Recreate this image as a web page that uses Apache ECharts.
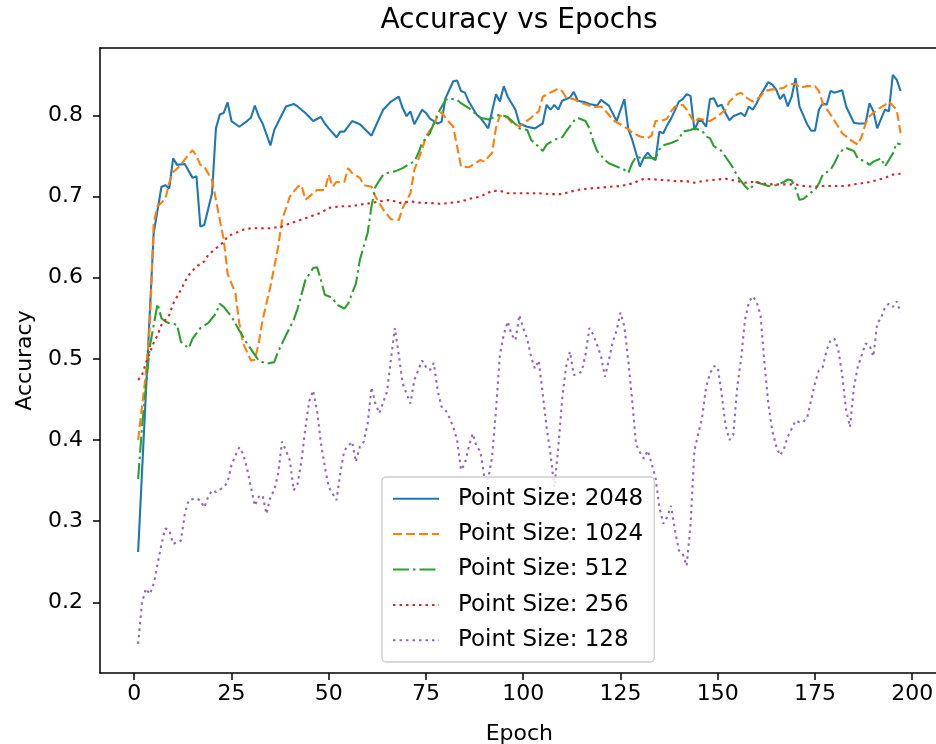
<!DOCTYPE html>
<html>
<head>
<meta charset="utf-8">
<script src="https://cdn.jsdelivr.net/npm/echarts@6/dist/echarts.min.js"></script>
<style>html,body{margin:0;padding:0;background:#fff}#c{width:936px;height:744px}</style>
</head>
<body>
<div id="c"></div>
<script>
const xTicks = [0, 25, 50, 75, 100, 125, 150, 175, 200];
const yTicks = [0.2, 0.3, 0.4, 0.5, 0.6, 0.7, 0.8];
const seriesNames = ['Point Size: 2048', 'Point Size: 1024', 'Point Size: 512', 'Point Size: 256', 'Point Size: 128'];

const ep2048 = [1,5,7,8,9,10,11,13,15,16,17,18,20,21,22,23,24,25,27,29,30,31,32,33,35,36,39,41,42,44,46,48,49,50,52,53,54,56,58,61,62,64,66,68,69,70,71,72,74,75,76,78,79,80,82,83,84,85,86,88,89,91,93,94,95,96,97,98,99,101,103,105,106,107,108,109,110,112,113,114,116,117,119,120,122,124,126,127,128,130,131,132,133,134,135,136,137,138,140,141,142,143,144,145,146,147,148,149,150,151,152,153,154,156,157,158,159,160,161,163,164,165,166,167,168,169,170,171,173,174,175,176,177,178,179,180,182,183,185,186,188,189,190,191,192,193,194,195,196,197];
const acc2048 = [0.262,0.655,0.712,0.714,0.710,0.747,0.739,0.740,0.723,0.725,0.663,0.665,0.704,0.784,0.801,0.803,0.816,0.793,0.786,0.793,0.797,0.812,0.799,0.790,0.763,0.782,0.811,0.814,0.811,0.803,0.793,0.798,0.790,0.784,0.773,0.780,0.780,0.793,0.789,0.775,0.786,0.807,0.817,0.823,0.809,0.799,0.805,0.789,0.807,0.803,0.796,0.790,0.792,0.821,0.842,0.843,0.830,0.828,0.817,0.801,0.797,0.784,0.826,0.817,0.836,0.823,0.815,0.807,0.790,0.786,0.784,0.790,0.813,0.807,0.813,0.807,0.818,0.822,0.829,0.818,0.816,0.814,0.812,0.819,0.812,0.793,0.820,0.783,0.770,0.737,0.748,0.754,0.748,0.745,0.780,0.778,0.788,0.796,0.817,0.820,0.826,0.824,0.782,0.793,0.793,0.786,0.820,0.821,0.811,0.813,0.803,0.794,0.799,0.803,0.799,0.811,0.807,0.815,0.825,0.841,0.838,0.832,0.820,0.826,0.811,0.823,0.846,0.811,0.789,0.781,0.781,0.807,0.815,0.813,0.830,0.828,0.831,0.811,0.791,0.790,0.790,0.815,0.805,0.784,0.796,0.807,0.805,0.850,0.844,0.830];

const ep1024 = [1,3,4,5,6,8,9,10,12,14,15,16,17,18,20,21,23,24,26,27,28,30,31,32,33,35,37,38,40,42,43,44,46,47,49,50,51,52,54,55,56,58,59,61,62,64,66,68,69,71,72,74,75,77,78,79,80,82,83,84,86,87,89,90,92,93,94,95,96,97,98,99,100,102,104,105,107,109,110,111,113,115,116,118,120,122,123,125,127,128,130,132,133,134,136,137,138,139,141,142,144,145,147,148,150,152,153,155,156,157,159,161,162,164,165,167,168,170,171,173,175,176,177,179,181,182,184,186,187,188,189,191,193,194,196,197];
const acc1024 = [0.400,0.482,0.540,0.667,0.688,0.697,0.717,0.730,0.739,0.752,0.757,0.750,0.739,0.737,0.720,0.696,0.647,0.605,0.581,0.544,0.519,0.498,0.499,0.519,0.548,0.589,0.638,0.671,0.700,0.712,0.714,0.696,0.704,0.708,0.708,0.727,0.712,0.718,0.718,0.735,0.729,0.723,0.714,0.712,0.700,0.684,0.672,0.671,0.686,0.704,0.733,0.758,0.774,0.789,0.799,0.804,0.797,0.786,0.762,0.737,0.736,0.739,0.745,0.743,0.754,0.785,0.800,0.798,0.797,0.791,0.789,0.786,0.790,0.797,0.805,0.823,0.828,0.833,0.830,0.822,0.820,0.815,0.814,0.810,0.811,0.801,0.794,0.789,0.783,0.779,0.774,0.772,0.775,0.793,0.794,0.796,0.805,0.811,0.813,0.807,0.791,0.796,0.794,0.793,0.799,0.807,0.817,0.826,0.828,0.823,0.817,0.823,0.830,0.832,0.832,0.834,0.838,0.839,0.834,0.836,0.836,0.830,0.815,0.801,0.786,0.778,0.770,0.764,0.774,0.790,0.799,0.807,0.813,0.817,0.807,0.778];

const ep512 = [1,2,4,6,7,8,9,11,12,14,15,17,19,21,22,23,25,27,28,29,31,32,34,36,37,39,41,42,44,46,47,48,49,51,52,54,55,57,58,60,61,62,64,65,67,69,71,72,73,74,76,77,78,80,81,83,84,86,88,89,91,93,94,96,98,99,101,102,104,105,106,108,110,111,113,114,116,117,118,119,121,122,124,126,127,128,129,131,132,134,135,136,138,140,141,143,144,146,147,148,149,151,152,154,155,156,157,158,160,161,163,165,167,168,169,170,171,172,174,175,176,177,179,180,181,182,183,185,186,188,189,190,192,193,194,195,196,197];
const acc512 = [0.352,0.416,0.515,0.568,0.550,0.546,0.544,0.542,0.521,0.513,0.525,0.538,0.544,0.556,0.568,0.564,0.552,0.535,0.527,0.519,0.505,0.498,0.494,0.496,0.509,0.529,0.548,0.562,0.597,0.612,0.613,0.597,0.579,0.575,0.567,0.562,0.568,0.593,0.622,0.655,0.688,0.712,0.727,0.729,0.731,0.735,0.741,0.743,0.753,0.766,0.778,0.790,0.802,0.819,0.821,0.819,0.815,0.809,0.801,0.797,0.795,0.799,0.801,0.798,0.789,0.784,0.782,0.770,0.761,0.756,0.764,0.770,0.773,0.780,0.793,0.797,0.793,0.784,0.768,0.756,0.745,0.741,0.737,0.733,0.729,0.741,0.749,0.747,0.748,0.747,0.758,0.763,0.766,0.770,0.780,0.782,0.784,0.781,0.774,0.772,0.762,0.756,0.749,0.735,0.725,0.719,0.713,0.708,0.718,0.716,0.713,0.714,0.718,0.721,0.720,0.710,0.696,0.697,0.705,0.708,0.716,0.727,0.733,0.741,0.751,0.757,0.760,0.756,0.747,0.743,0.739,0.743,0.747,0.737,0.745,0.753,0.766,0.764];

const ep256 = [1,2,3,5,6,7,9,10,12,13,14,16,18,19,21,23,24,26,28,30,33,35,38,40,42,45,48,50,53,56,58,61,63,66,68,71,74,76,79,81,84,86,89,92,94,96,99,102,104,107,110,112,115,117,120,122,125,128,130,131,134,137,139,142,144,146,148,152,154,157,159,162,164,167,170,172,175,177,180,183,185,188,190,193,195,197];
const acc256 = [0.474,0.480,0.495,0.520,0.529,0.542,0.554,0.568,0.585,0.595,0.603,0.614,0.620,0.628,0.636,0.644,0.651,0.655,0.659,0.661,0.661,0.661,0.663,0.667,0.670,0.675,0.680,0.686,0.688,0.688,0.690,0.692,0.694,0.696,0.692,0.694,0.692,0.692,0.691,0.692,0.694,0.697,0.700,0.707,0.707,0.704,0.704,0.704,0.704,0.703,0.703,0.706,0.709,0.710,0.711,0.712,0.713,0.716,0.720,0.722,0.721,0.720,0.719,0.719,0.717,0.719,0.720,0.722,0.720,0.717,0.718,0.716,0.715,0.715,0.715,0.713,0.712,0.713,0.713,0.713,0.715,0.717,0.719,0.723,0.727,0.728];

const ep128 = [1,2,3,4,5,6,7,8,9,10,12,13,14,16,17,18,19,20,21,23,24,25,26,27,28,29,30,31,32,33,34,35,36,37,38,39,40,41,42,43,44,45,46,47,48,49,50,51,52,53,54,56,57,58,59,60,61,62,63,65,66,67,68,69,70,71,72,73,74,75,76,77,78,79,80,81,82,83,84,85,86,87,88,89,90,91,92,93,94,95,96,97,98,99,100,101,102,103,104,105,106,107,108,109,110,111,112,113,115,116,117,118,119,120,121,122,123,124,125,126,127,128,129,130,131,132,133,134,135,136,137,138,139,140,141,142,143,144,145,146,147,148,149,150,151,152,153,154,155,156,157,158,159,160,161,162,163,164,165,166,167,168,170,171,172,173,174,175,176,177,178,179,180,181,182,183,184,185,186,188,189,190,191,192,193,194,195,196,197];
const acc128 = [0.149,0.200,0.217,0.210,0.223,0.247,0.272,0.291,0.289,0.272,0.276,0.309,0.326,0.328,0.326,0.317,0.330,0.338,0.336,0.342,0.348,0.369,0.381,0.391,0.383,0.365,0.342,0.319,0.330,0.332,0.309,0.330,0.338,0.359,0.398,0.387,0.375,0.338,0.346,0.375,0.415,0.448,0.461,0.436,0.396,0.367,0.342,0.334,0.326,0.360,0.387,0.398,0.373,0.392,0.398,0.420,0.465,0.445,0.433,0.460,0.500,0.538,0.505,0.470,0.457,0.445,0.474,0.486,0.498,0.490,0.486,0.495,0.461,0.441,0.437,0.428,0.416,0.400,0.363,0.371,0.392,0.408,0.392,0.386,0.354,0.352,0.380,0.437,0.505,0.530,0.546,0.530,0.523,0.554,0.538,0.525,0.503,0.488,0.498,0.457,0.416,0.383,0.342,0.390,0.450,0.490,0.509,0.480,0.484,0.505,0.538,0.530,0.517,0.503,0.478,0.498,0.521,0.535,0.557,0.540,0.498,0.449,0.395,0.385,0.377,0.387,0.371,0.354,0.317,0.297,0.305,0.319,0.289,0.264,0.260,0.245,0.295,0.387,0.408,0.428,0.465,0.482,0.491,0.490,0.457,0.418,0.400,0.406,0.465,0.500,0.548,0.570,0.577,0.570,0.554,0.495,0.445,0.412,0.393,0.381,0.389,0.404,0.424,0.422,0.422,0.428,0.449,0.470,0.486,0.490,0.511,0.523,0.525,0.511,0.480,0.437,0.416,0.465,0.490,0.519,0.517,0.503,0.544,0.550,0.564,0.568,0.564,0.571,0.557];

const seriesEpochs = [ep2048, ep1024, ep512, ep256, ep128];
const seriesAcc = [acc2048, acc1024, acc512, acc256, acc128];
const colors = ['#1f77b4', '#ff7f0e', '#2ca02c', '#d62728', '#9467bd'];
const dashes = ['solid', [9, 4], [16, 4, 2.5, 4], [2.5, 4], [2.5, 4]];

const FONT = 'DejaVu Sans';
const chart = echarts.init(document.getElementById('c'), null, {renderer: 'canvas'});

const series = seriesNames.map((name, i) => ({
  name: name,
  type: 'line',
  data: seriesEpochs[i].map((e, j) => [e, seriesAcc[i][j]]),
  symbol: 'none',
  showSymbol: false,
  smooth: false,
  lineStyle: {color: colors[i], width: 2.1, type: dashes[i], cap: 'butt'},
  itemStyle: {color: colors[i]},
  emphasis: {disabled: true}
}));

const axisText = {fontFamily: FONT, fontSize: 22, color: '#000'};

chart.setOption({
  animation: false,
  backgroundColor: '#ffffff',
  title: {
    text: 'Accuracy vs Epochs',
    left: 519,
    top: 7,
    padding: 0,
    textAlign: 'center',
    textStyle: {fontFamily: FONT, fontSize: 28, fontWeight: 'normal', color: '#000'}
  },
  legend: {
    orient: 'vertical',
    left: 382,
    top: 477,
    padding: [8.7, 11, 8.7, 10],
    itemWidth: 46,
    itemHeight: 14,
    itemGap: 9.4,
    backgroundColor: 'rgba(255,255,255,0.8)',
    borderColor: '#cccccc',
    borderWidth: 1.3,
    borderRadius: 4,
    itemStyle: {opacity: 0},
    data: seriesNames,
    textStyle: {fontFamily: FONT, fontSize: 23, color: '#000', lineHeight: 26, padding: [0, 0, 0, 14]}
  },
  grid: {
    left: 100, top: 48, width: 838.7, height: 625,
    show: false,
    containLabel: false,
    outerBoundsMode: 'none'
  },
  xAxis: [{
    type: 'value',
    min: -8.8, max: 206.8,
    name: 'Epoch',
    nameLocation: 'middle',
    nameGap: 50,
    nameTextStyle: axisText,
    axisLine: {show: true, onZero: false, lineStyle: {color: '#000', width: 1.5}},
    axisTick: {show: true, length: 7, inside: false, customValues: xTicks, lineStyle: {color: '#000', width: 1.5}},
    axisLabel: Object.assign({show: true, customValues: xTicks, margin: 10, formatter: v => String(v)}, axisText),
    splitLine: {show: false}
  }, {
    type: 'value',
    position: 'top',
    min: -8.8, max: 206.8,
    axisLine: {show: true, onZero: false, lineStyle: {color: '#000', width: 1.5}},
    axisTick: {show: false},
    axisLabel: {show: false},
    splitLine: {show: false}
  }],
  yAxis: {
    type: 'value',
    min: 0.113, max: 0.883,
    name: 'Accuracy',
    nameLocation: 'middle',
    nameGap: 64,
    nameRotate: 90,
    nameTextStyle: axisText,
    axisLine: {show: true, onZero: false, lineStyle: {color: '#000', width: 1.5}},
    axisTick: {show: true, length: 7, inside: false, customValues: yTicks, lineStyle: {color: '#000', width: 1.5}},
    axisLabel: Object.assign({show: true, customValues: yTicks, margin: 17, formatter: v => v.toFixed(1)}, axisText),
    splitLine: {show: false}
  },
  series: series
});
</script>
</body>
</html>
